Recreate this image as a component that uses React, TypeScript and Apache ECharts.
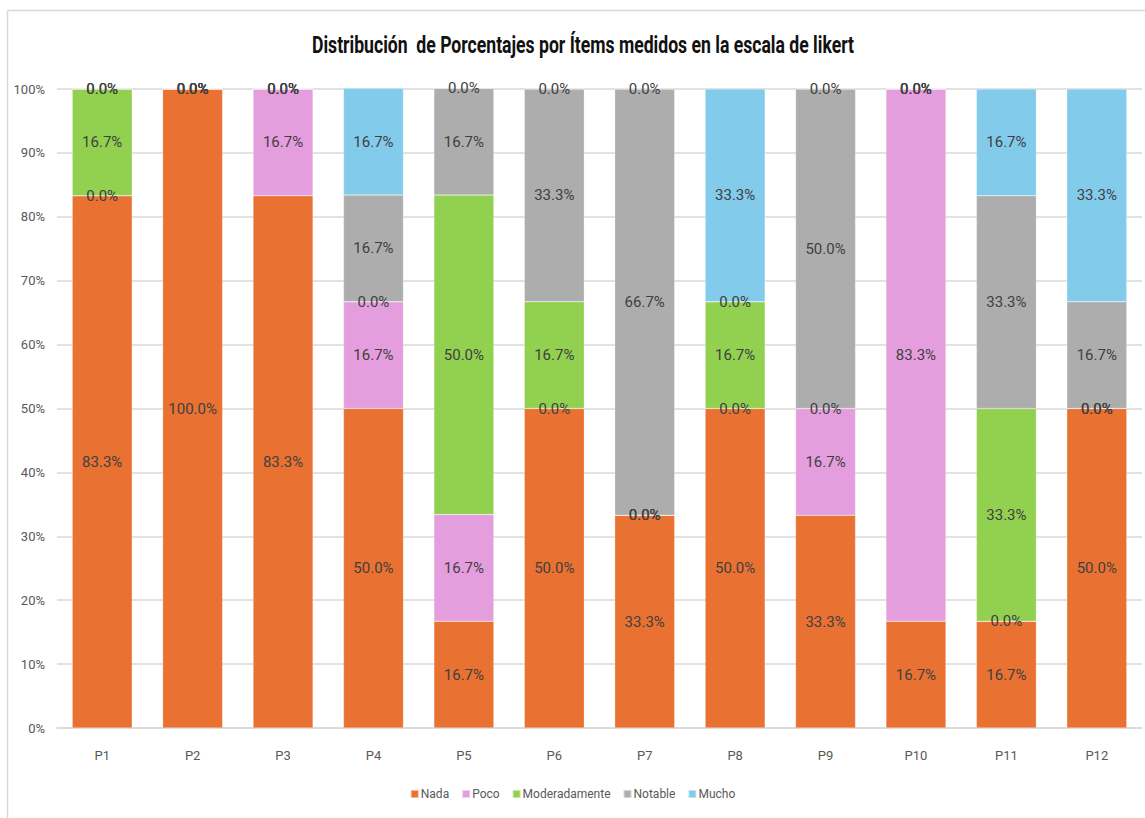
import React, { useEffect, useRef } from "react";
import * as echarts from "echarts";

const categories = ["P1", "P2", "P3", "P4", "P5", "P6", "P7", "P8", "P9", "P10", "P11", "P12"];
const nada = [83.3, 100.0, 83.3, 50.0, 16.7, 50.0, 33.3, 50.0, 33.3, 16.7, 16.7, 50.0];
const poco = [0.0, 0.0, 16.7, 16.7, 16.7, 0.0, 0.0, 0.0, 16.7, 83.3, 0.0, 0.0];
const moderadamente = [16.7, 0.0, 0.0, 0.0, 50.0, 16.7, 0.0, 16.7, 0.0, 0.0, 33.3, 0.0];
const notable = [0.0, 0.0, 0.0, 16.7, 16.7, 33.3, 66.7, 0.0, 50.0, 0.0, 33.3, 16.7];
const mucho = [0.0, 0.0, 0.0, 16.7, 0.0, 0.0, 0.0, 33.3, 0.0, 0.0, 16.7, 33.3];
const seriesNames = ["Nada", "Poco", "Moderadamente", "Notable", "Mucho"];
const seriesColors = ["#E97132", "#E59EDD", "#92D050", "#ADADAD", "#83CBEB"];
const titleText = "Distribución  de Porcentajes por Ítems medidos en la escala de likert";

const FONT = "Roboto, 'Liberation Sans', sans-serif";

export default function App() {
  const ref = useRef<HTMLDivElement>(null);
  useEffect(() => {
    if (!ref.current) return;
    const chart = echarts.init(ref.current, undefined, { renderer: "svg" });
    const values = [nada, poco, moderadamente, notable, mucho];
    chart.setOption({
      animation: false,
      backgroundColor: "#ffffff",
      legend: {
        bottom: 13,
        left: "center",
        itemWidth: 8,
        itemHeight: 8,
        itemGap: 12,
        icon: "rect",
        textStyle: { fontFamily: FONT, fontSize: 12, color: "#595959", padding: [0, 0, 0, -3] },
        data: seriesNames,
      },
      grid: { left: 57, right: 3, top: 89, bottom: 90, containLabel: false },
      xAxis: {
        type: "category",
        data: categories,
        axisLine: { lineStyle: { color: "#d9d9d9", width: 1.5 } },
        axisTick: { show: false },
        axisLabel: { fontFamily: FONT, fontSize: 13, color: "#595959", margin: 21 },
      },
      yAxis: {
        type: "value",
        min: 0,
        max: 100,
        interval: 10,
        axisLine: { show: false },
        axisTick: { show: false },
        splitLine: { lineStyle: { color: "#d9d9d9", width: 1.5 } },
        axisLabel: {
          fontFamily: FONT,
          fontSize: 13,
          color: "#595959",
          margin: 12,
          formatter: (v: number) => v + "%",
        },
      },
      series: seriesNames.map((name, i) => ({
        name,
        type: "bar",
        stack: "total",
        barWidth: 60,
        clip: false,
        data: values[i],
        itemStyle: { color: seriesColors[i], borderColor: "rgba(255,255,255,0.5)", borderWidth: 0.5 },
        label: {
          show: true,
          position: "inside",
          fontFamily: FONT,
          fontSize: 15,
          color: "#404040",
          formatter: (p: any) => Number(p.value).toFixed(1) + "%",
        },
        labelLayout: { hideOverlap: false },
      })),
      graphic: [
        { type: "line", shape: { x1: 7.5, y1: 10.5, x2: 1145, y2: 10.5 }, style: { stroke: "#d9d9d9", lineWidth: 1.5 } },
        { type: "line", shape: { x1: 7.5, y1: 10.5, x2: 7.5, y2: 818 }, style: { stroke: "#d9d9d9", lineWidth: 1.5 } },
        {
          type: "text",
          x: 583,
          y: 45,
          scaleX: 0.766,
          style: {
            text: titleText,
            textAlign: "center",
            textVerticalAlign: "middle",
            fontFamily: "Roboto, 'Liberation Sans', sans-serif",
            fontSize: 23,
            fontWeight: "bold",
            fill: "#111111",
          },
        },
      ],
    });
    return () => chart.dispose();
  }, []);
  return <div ref={ref} style={{ position: "fixed", left: 0, top: 0, width: 1145, height: 818 }} />;
}
